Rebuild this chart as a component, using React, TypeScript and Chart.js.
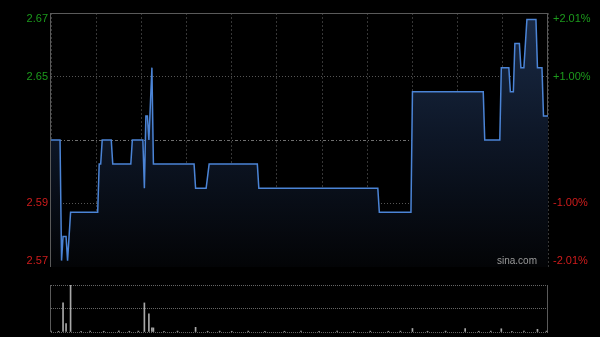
import React, { useEffect, useRef } from 'react';
import { Chart, registerables } from 'chart.js';

Chart.register(...registerables);

// ---- data ----
const PREV_CLOSE = 2.62;
const PCT_RANGE = 2.01;
const SESSION_MINUTES = 330;

const minutes = [0, 6, 7, 8, 10, 11, 13, 31, 32, 33, 34, 40, 41, 53, 54, 61, 62, 63, 64, 65, 67, 68, 95, 96, 103, 105, 137, 138, 217, 218, 239, 240, 287, 288, 298, 299, 304, 305, 307, 308, 311, 312, 314, 316, 322, 323, 326, 327, 330];
const prices = [2.62, 2.62, 2.57, 2.58, 2.58, 2.57, 2.59, 2.59, 2.61, 2.61, 2.62, 2.62, 2.61, 2.61, 2.62, 2.62, 2.60, 2.63, 2.63, 2.62, 2.65, 2.61, 2.61, 2.60, 2.60, 2.61, 2.61, 2.60, 2.60, 2.59, 2.59, 2.64, 2.64, 2.62, 2.62, 2.65, 2.65, 2.64, 2.64, 2.66, 2.66, 2.65, 2.65, 2.67, 2.67, 2.65, 2.65, 2.63, 2.63];

const volMinutes = [0, 5, 8, 10, 13, 20, 26, 35, 45, 52, 58, 62, 65, 67, 68, 75, 84, 96, 104, 112, 120, 131, 142, 155, 166, 178, 190, 201, 212, 224, 232, 240, 250, 262, 275, 284, 292, 299, 306, 314, 323, 329];
const volumes = [3000, 2500, 99000, 29000, 160000, 2500, 3000, 2500, 3500, 2500, 3000, 99000, 62000, 14000, 14000, 2500, 3000, 16000, 2500, 3000, 2500, 3000, 2500, 2500, 3000, 2500, 3500, 2500, 3000, 2500, 3000, 12000, 2500, 3000, 12000, 2500, 3000, 11000, 2500, 3000, 9000, 3000];
const VOL_MAX = 160000;

const pctTicks = [-1.915, -1, 0, 1, 1.915];
const leftTickLabels = ['2.57', '2.59', '', '2.65', '2.67'];
const rightTickLabels = ['-2.01%', '-1.00%', '', '+1.00%', '+2.01%'];

const GREEN = '#1c9a1c';
const RED = '#d01c1c';
const FONT = 'Arial, "Liberation Sans", sans-serif';

const tickColor = (ctx: any) => (ctx.index >= 3 ? GREEN : ctx.index <= 1 ? RED : 'rgba(0,0,0,0)');

const framePlugin = {
  id: 'frame',
  beforeDatasetsDraw(chart: any) {
    const { ctx, chartArea: a } = chart;
    ctx.save();
    ctx.strokeStyle = '#5a5a5a';
    ctx.lineWidth = 1;
    ctx.strokeRect(Math.round(a.left) - 0.5, Math.round(a.top) + 0.5, Math.round(a.right - a.left), Math.round(a.bottom - a.top) - 1);
    ctx.restore();
  },
  afterDatasetsDraw(chart: any) {
    const { ctx, chartArea: a } = chart;
    ctx.save();
    ctx.fillStyle = '#9a9a9a';
    ctx.font = '10px ' + FONT;
    ctx.textAlign = 'right';
    ctx.textBaseline = 'alphabetic';
    ctx.fillText('sina.com', a.right - 11, a.bottom - 3);
    ctx.restore();
  },
};

const volFramePlugin = {
  id: 'volFrame',
  beforeDatasetsDraw(chart: any) {
    const { ctx, chartArea: a } = chart;
    ctx.save();
    ctx.strokeStyle = '#5a5a5a';
    ctx.lineWidth = 1;
    ctx.beginPath();
    const l = Math.round(a.left) - 0.5;
    const r = Math.round(a.right) - 0.5;
    ctx.moveTo(l, a.top);
    ctx.lineTo(l, a.bottom);
    ctx.moveTo(r, a.top);
    ctx.lineTo(r, a.bottom);
    ctx.stroke();
    ctx.restore();
  },
};

export default function App() {
  const priceRef = useRef<HTMLCanvasElement>(null);
  const volRef = useRef<HTMLCanvasElement>(null);

  useEffect(() => {
    const lo = PREV_CLOSE * (1 - PCT_RANGE / 100);
    const hi = PREV_CLOSE * (1 + PCT_RANGE / 100);

    const priceChart = new Chart(priceRef.current!, {
      type: 'line',
      data: {
        datasets: [
          {
            data: minutes.map((m, i) => ({ x: m, y: prices[i] })),
            borderColor: '#4b84d6',
            borderWidth: 1.5,
            pointRadius: 0,
            tension: 0,
            fill: 'start',
            backgroundColor: (c: any) => {
              const { chart } = c;
              const a = chart.chartArea;
              if (!a) return 'rgba(0,0,0,0)';
              const g = chart.ctx.createLinearGradient(0, a.top, 0, a.bottom);
              g.addColorStop(0, '#1a2b47');
              g.addColorStop(0.5, '#0d1626');
              g.addColorStop(1, '#030406');
              return g;
            },
          },
        ],
      },
      options: {
        animation: false,
        responsive: false,
        maintainAspectRatio: false,
        layout: { padding: { top: 13, left: 0, right: 0, bottom: 0 } },
        plugins: { legend: { display: false }, tooltip: { enabled: false }, title: { display: false } },
        scales: {
          x: {
            type: 'linear',
            min: 0,
            max: SESSION_MINUTES,
            ticks: { display: false, stepSize: 30 },
            grid: { color: '#363636', drawTicks: false, lineWidth: 1 },
            border: { display: false, dash: [2, 2] },
            afterFit: (s: any) => { s.height = 13; },
          },
          y: {
            type: 'linear',
            position: 'left',
            min: lo,
            max: hi,
            afterBuildTicks: (s: any) => { s.ticks = pctTicks.map((p) => ({ value: PREV_CLOSE * (1 + p / 100) })); },
            ticks: {
              callback: (_v: any, i: number) => leftTickLabels[i],
              color: tickColor,
              font: { family: FONT, size: 11 },
              padding: 3,
            },
            grid: {
              drawTicks: false,
              color: (c: any) => (c.index === 2 ? '#707070' : c.index === 1 || c.index === 3 ? '#555555' : 'rgba(0,0,0,0)'),
            },
            border: { display: false, dash: (c: any) => (c.index === 2 ? [3, 2, 1, 2] : [1, 2]) },
            afterFit: (s: any) => { s.width = 51; },
          },
          yr: {
            type: 'linear',
            position: 'right',
            min: -PCT_RANGE,
            max: PCT_RANGE,
            afterBuildTicks: (s: any) => { s.ticks = pctTicks.map((p) => ({ value: p })); },
            ticks: {
              callback: (_v: any, i: number) => rightTickLabels[i],
              color: tickColor,
              font: { family: FONT, size: 11 },
              padding: 5,
            },
            grid: { display: false, drawOnChartArea: false, drawTicks: false },
            border: { display: false },
            afterFit: (s: any) => { s.width = 52; },
          },
        },
      },
      plugins: [framePlugin],
    } as any);

    const volChart = new Chart(volRef.current!, {
      type: 'bar',
      data: {
        datasets: [
          {
            data: volMinutes.map((m, i) => ({ x: m, y: volumes[i] })),
            backgroundColor: '#a8a8a8',
            barThickness: 1,
            borderWidth: 0,
          },
        ],
      },
      options: {
        animation: false,
        responsive: false,
        maintainAspectRatio: false,
        layout: { padding: { top: 5, left: 0, right: 52, bottom: 5 } },
        plugins: { legend: { display: false }, tooltip: { enabled: false } },
        scales: {
          x: {
            type: 'linear',
            min: 0,
            max: SESSION_MINUTES,
            display: false,
            offset: false,
          },
          y: {
            type: 'linear',
            min: 0,
            max: VOL_MAX,
            ticks: { display: false, stepSize: VOL_MAX / 2 },
            grid: { color: '#666666', drawTicks: false },
            border: { display: false, dash: [1, 1] },
            afterFit: (s: any) => { s.width = 51; },
          },
        },
      },
      plugins: [volFramePlugin],
    } as any);

    return () => {
      priceChart.destroy();
      volChart.destroy();
    };
  }, []);

  return (
    <div style={{ position: 'fixed', left: 0, top: 0, width: 600, height: 337, background: '#000', overflow: 'hidden' }}>
      <canvas ref={priceRef} width={600} height={280} style={{ position: 'absolute', left: 0, top: 0, width: 600, height: 280 }} />
      <canvas ref={volRef} width={600} height={57} style={{ position: 'absolute', left: 0, top: 280, width: 600, height: 57 }} />
    </div>
  );
}
